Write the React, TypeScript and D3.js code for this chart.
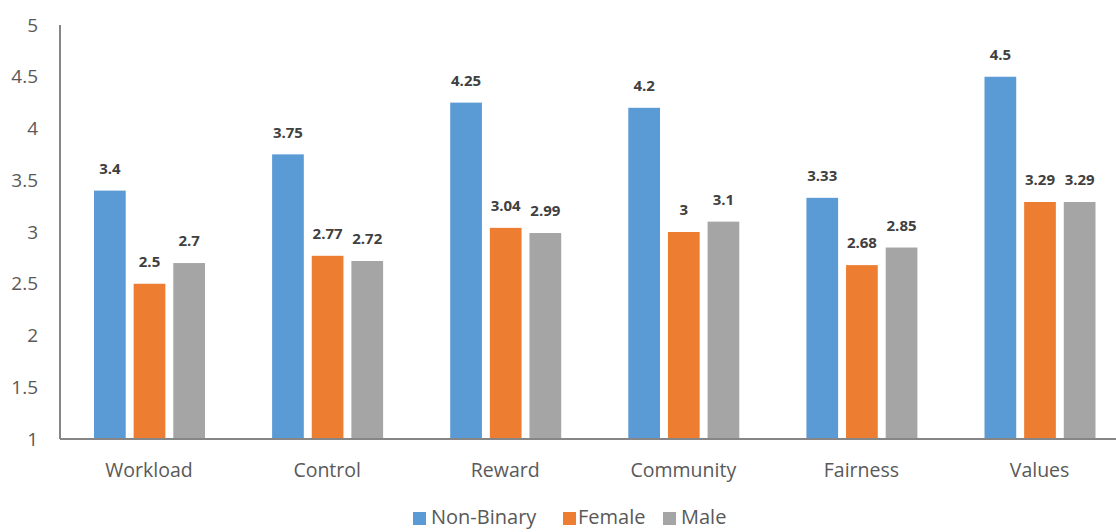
import React from "react";
import * as d3 from "d3";

const categories = ["Workload", "Control", "Reward", "Community", "Fairness", "Values"];
const seriesNames = ["Non-Binary", "Female", "Male"];
const nonBinary = [3.4, 3.75, 4.25, 4.2, 3.33, 4.5];
const female = [2.5, 2.77, 3.04, 3, 2.68, 3.29];
const male = [2.7, 2.72, 2.99, 3.1, 2.85, 3.29];
const yTicks = [1, 1.5, 2, 2.5, 3, 3.5, 4, 4.5, 5];
const colors = ["#5B9BD5", "#ED7D31", "#A5A5A5"];

const W = 1116;
const H = 532;
const left = 60;
const top = 25;
const bottom = 439;
const step = 178.1;

export default function App() {
  const series = [nonBinary, female, male];
  const x = d3.scaleBand<string>().domain(categories).range([left, left + step * categories.length]).padding(0);
  const inner = d3.scaleBand<string>().domain(seriesNames).range([34, 145]).paddingInner(0.2).paddingOuter(0);
  const y = d3.scaleLinear().domain([1, 5]).range([bottom, top]);
  const font = "'Open Sans', 'Noto Sans', sans-serif";

  return (
    <svg width={W} height={H} style={{ position: "absolute", left: 0, top: 0, background: "#fff" }} fontFamily={font}>
      {yTicks.map((t) => (
        <text key={t} x={38} y={y(t)} dy="0.35em" textAnchor="end" fontSize={19} fill="#595959">
          {d3.format("")(t)}
        </text>
      ))}
      {categories.map((c, i) => (
        <g key={c}>
          {seriesNames.map((s, j) => {
            const v = series[j][i];
            const bx = (x(c) as number) + (inner(s) as number);
            const bw = inner.bandwidth();
            return (
              <g key={s}>
                <rect x={bx} y={y(v)} width={bw} height={bottom - y(v)} fill={colors[j]} />
                <text x={bx + bw / 2} y={y(v) - 22} dy="0.35em" textAnchor="middle" fontSize={15} fontWeight="bold" fill="#404040">
                  {String(v)}
                </text>
              </g>
            );
          })}
          <text x={(x(c) as number) + x.bandwidth() / 2} y={470} dy="0.35em" textAnchor="middle" fontSize={19.5} fill="#595959">
            {c}
          </text>
        </g>
      ))}
      <line x1={left} x2={W} y1={bottom} y2={bottom} stroke="#868686" strokeWidth={2} />
      <line x1={left} x2={left} y1={top} y2={bottom} stroke="#868686" strokeWidth={2} />
      <g>
        {[
          { name: seriesNames[0], sx: 413, tx: 431 },
          { name: seriesNames[1], sx: 563, tx: 578 },
          { name: seriesNames[2], sx: 663, tx: 681 },
        ].map((l, i) => (
          <g key={l.name}>
            <rect x={l.sx} y={512} width={13} height={13} fill={colors[i]} />
            <text x={l.tx} y={517} dy="0.35em" fontSize={20} fill="#595959">
              {l.name}
            </text>
          </g>
        ))}
      </g>
    </svg>
  );
}
